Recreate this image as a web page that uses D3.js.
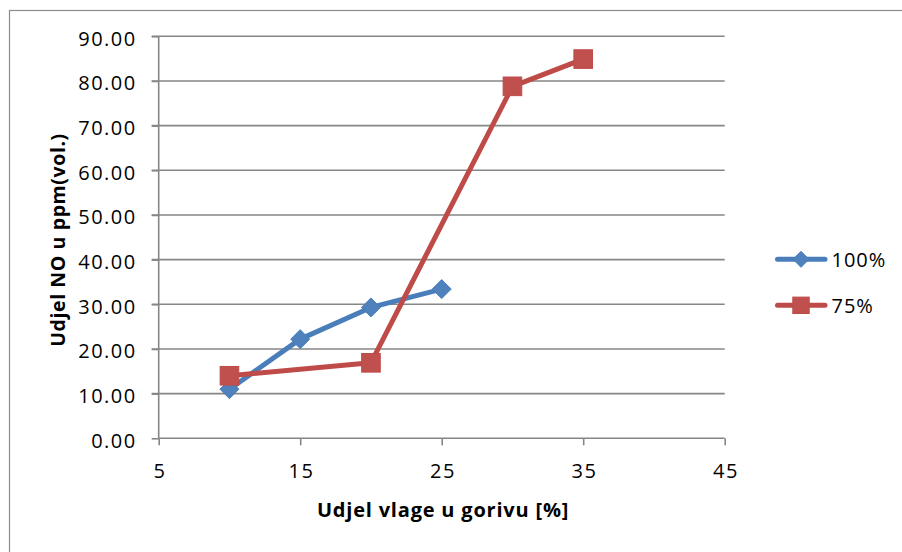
<!DOCTYPE html>
<html><head><meta charset="utf-8">
<script src="https://cdn.jsdelivr.net/npm/d3@7"></script>
<style>body{margin:0;background:#fff}svg{display:block}text{font-family:"Open Sans","Liberation Sans",sans-serif}</style>
</head><body><svg id="c" width="902" height="552"></svg>
<script>
const xTicks = [5, 15, 25, 35, 45];
const yTicks = [0, 10, 20, 30, 40, 50, 60, 70, 80, 90];
const series100X = [10, 15, 20, 25];
const series100Y = [11.0, 22.2, 29.3, 33.4];
const series75X = [10, 20, 30, 35];
const series75Y = [14.0, 16.9, 78.8, 84.9];
const seriesNames = ["100%", "75%"];
const xTitle = "Udjel vlage u gorivu [%]";
const yTitle = "Udjel NO u ppm(vol.)";

const svg = d3.select("#c");
const x = d3.scaleLinear().domain([5, 45]).range([158.7, 724.7]);
const y = d3.scaleLinear().domain([0, 90]).range([438.3, 36.3]);
const grid = "#868686";

svg.append("rect").attr("x", 9.5).attr("y", 10.5).attr("width", 1000).attr("height", 1000)
  .attr("fill", "none").attr("stroke", "#8c8c8c").attr("stroke-width", 1.2);

// gridlines
svg.append("g").selectAll("line").data(yTicks.filter(d => d > 0)).join("line")
  .attr("x1", 151.7).attr("x2", x(45)).attr("y1", d => y(d)).attr("y2", d => y(d))
  .attr("stroke", grid).attr("stroke-width", 1.6);

// y axis
const ya = svg.append("g").attr("transform", `translate(${x(5)},0)`)
  .call(d3.axisLeft(y).tickValues(yTicks).tickFormat(d3.format(".2f")).tickSize(7).tickPadding(15));
ya.select(".domain").attr("stroke", grid).attr("stroke-width", 1.6).attr("d", `M0,${y(90)}V${y(0)}`);
ya.selectAll(".tick line").attr("stroke", grid).attr("stroke-width", 1.6);
ya.selectAll(".tick text").attr("font-size", 20).attr("fill", "#000").attr("letter-spacing", "1.5px")
  .attr("font-family", "'Open Sans',sans-serif").attr("dy", "0.45em");

// x axis
const xa = svg.append("g").attr("transform", `translate(0,${y(0)})`)
  .call(d3.axisBottom(x).tickValues(xTicks).tickSize(7).tickPadding(19));
xa.select(".domain").attr("stroke", grid).attr("stroke-width", 1.6).attr("d", `M${x(5)},0H${x(45)}`);
xa.selectAll(".tick line").attr("stroke", grid).attr("stroke-width", 1.6);
xa.selectAll(".tick text").attr("font-size", 20).attr("fill", "#000").attr("letter-spacing", "1.5px")
  .attr("dx", "0.75").attr("font-family", "'Open Sans',sans-serif");

const line = d3.line().x(d => x(d[0])).y(d => y(d[1]));
const d100 = series100X.map((v, i) => [v, series100Y[i]]);
const d75 = series75X.map((v, i) => [v, series75Y[i]]);
const blue = "#4A7EBB", blueM = "#4F81BD", red = "#BE4B48", redM = "#C0504D";

svg.append("path").datum(d100).attr("d", line).attr("fill", "none")
  .attr("stroke", blue).attr("stroke-width", 5).attr("stroke-linejoin", "round");
svg.append("path").datum(d75).attr("d", line).attr("fill", "none")
  .attr("stroke", red).attr("stroke-width", 5).attr("stroke-linejoin", "round");

function diamond(g, cx, cy, h) {
  g.append("path").attr("d", `M${cx},${cy-h}L${cx+h},${cy}L${cx},${cy+h}L${cx-h},${cy}Z`)
    .attr("fill", blueM).attr("stroke", blue).attr("stroke-width", 1);
}
function square(g, cx, cy, h) {
  g.append("rect").attr("x", cx-h).attr("y", cy-h).attr("width", 2*h).attr("height", 2*h)
    .attr("fill", redM).attr("stroke", red).attr("stroke-width", 1);
}
const mk = svg.append("g");
d100.forEach(d => diamond(mk, x(d[0]), y(d[1]), 9.5));
d75.forEach(d => square(mk, x(d[0]), y(d[1]), 9.3));

// legend
const lg = svg.append("g");
[[259.3, blue, diamond, 8], [305.3, red, square, 8.2]].forEach((r, i) => {
  lg.append("line").attr("x1", 777.5).attr("x2", 825).attr("y1", r[0]).attr("y2", r[0])
    .attr("stroke", r[1]).attr("stroke-width", 5).attr("stroke-linecap", "round");
  r[2](lg, 801, r[0], r[3]);
  lg.append("text").attr("x", 831.5).attr("y", r[0]).attr("dy", "0.38em")
    .attr("font-size", 20).attr("letter-spacing", "1px").attr("fill", "#000").text(seriesNames[i]);
});

// titles
svg.append("text").attr("x", 443).attr("y", 517).attr("text-anchor", "middle")
  .attr("font-size", 20).attr("letter-spacing", "0.8px").attr("font-weight", "bold").attr("fill", "#000").text(xTitle);
svg.append("text").attr("transform", "translate(65,240) rotate(-90)").attr("text-anchor", "middle")
  .attr("font-size", 19.5).attr("letter-spacing", "0.6px").attr("font-weight", "bold").attr("fill", "#000").text(yTitle);
</script></body></html>
